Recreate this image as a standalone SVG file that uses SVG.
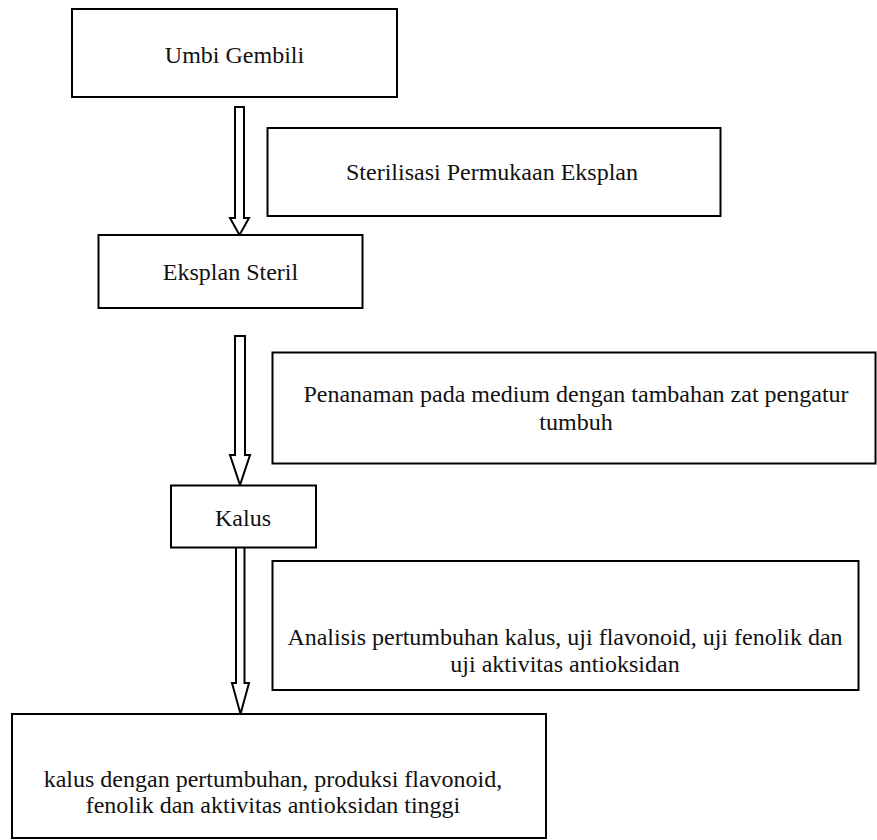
<svg xmlns="http://www.w3.org/2000/svg" width="877" height="840" viewBox="0 0 877 840">
<style>
.box{fill:#fff;stroke:#000;stroke-width:2}
.arr{fill:#fff;stroke:#000;stroke-width:2;stroke-linejoin:miter}
text{font-family:"Liberation Serif","Times New Roman",serif;font-size:24px;fill:#111;text-anchor:middle}
</style>
<rect width="877" height="840" fill="#fff"/>
<g id="connectors">
<polygon class="arr" points="235,107 244,107 244,218 249,218 239.5,235 230,218 235,218"/>
<polygon class="arr" points="235,336 245,336 245,455 250,455 240,485 230,455 235,455"/>
<polygon class="arr" points="236,547 244.5,547 244.5,683 249,683 240.5,714 232,683 236,683"/>
</g>
<g id="umbi">
<rect class="box" x="72" y="9" width="325" height="88"/>
<text x="234.5" y="63">Umbi Gembili</text>
</g>
<g id="sterilisasi">
<rect class="box" x="267.5" y="128" width="453" height="88"/>
<text x="492" y="180">Sterilisasi Permukaan Eksplan</text>
</g>
<g id="eksplan">
<rect class="box" x="98.5" y="235" width="264" height="73"/>
<text x="230.5" y="280">Eksplan Steril</text>
</g>
<g id="penanaman">
<rect class="box" x="272.5" y="352.5" width="603" height="111"/>
<text x="576" y="402">Penanaman pada medium dengan tambahan zat pengatur</text>
<text x="576" y="429.5">tumbuh</text>
</g>
<g id="kalus">
<rect class="box" x="171" y="485.5" width="145" height="62"/>
<text x="243" y="526">Kalus</text>
</g>
<g id="analisis">
<rect class="box" x="272.5" y="561" width="586" height="129"/>
<text x="565" y="645">Analisis pertumbuhan kalus, uji flavonoid, uji fenolik dan</text>
<text x="565" y="672">uji aktivitas antioksidan</text>
</g>
<g id="hasil">
<rect class="box" x="12" y="714" width="534" height="124"/>
<text x="273" y="787">kalus dengan pertumbuhan, produksi flavonoid,</text>
<text x="273" y="813">fenolik dan aktivitas antioksidan tinggi</text>
</g>
</svg>
